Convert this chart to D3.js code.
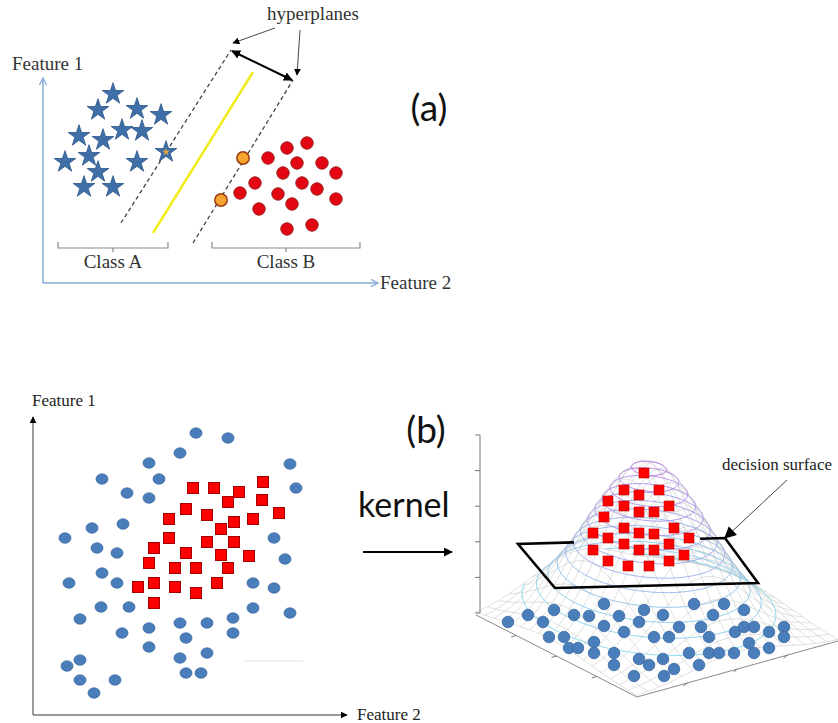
<!DOCTYPE html>
<html>
<head>
<meta charset="utf-8">
<script src="https://cdn.jsdelivr.net/npm/d3@7"></script>
<style>
  body { margin: 0; background: #fff; }
  svg { display: block; }
</style>
</head>
<body>
<div id="chart"></div>
<script>
// all panel values are in drawing units (1 unit ~ 10px of the original figure)

// ---- (a) linear separation ----
var starsA = [[7.0,18.9],[5.5,17.3],[9.4,17.4],[11.8,16.8],[3.6,14.7],[6.0,14.3],[7.9,15.3],
              [9.9,15.2],[2.2,12.1],[4.6,12.7],[5.5,11.1],[9.4,12.1],[4.1,9.6],[7.0,9.6]];
var supportStarsA = [[12.3,13.1]];
var circlesA = [[26.4,14.0],[24.4,13.5],[22.5,12.5],[25.4,12.0],[27.9,12.0],[24.0,11.0],[29.3,11.0],
                [21.2,10.0],[25.9,10.0],[27.4,9.4],[19.7,9.0],[23.5,8.9],[24.9,7.9],[29.3,8.4],
                [21.6,7.4],[24.4,5.4],[26.9,5.8]];
var supportCirclesA = [[20.0,12.5],[17.8,8.3]];
var hyperplanesA = [[[7.8,6.0],[18.8,23.3]], [[15.0,4.0],[25.0,20.3]]];
var separatorA = [[11.0,5.0],[21.0,21.1]];
var marginA = [[18.9,23.2],[24.9,20.3]];
var pointersA = [[[23.2,25.5],[19.0,24.0]], [[25.7,25.3],[25.4,20.8]]];
var classesA = [{name: "Class A", from: 1.5, to: 12.5}, {name: "Class B", from: 16.9, to: 31.7}];

// ---- (b) left: input space ----
var circlesB = [[16.3,28.2],[14.7,26.2],[11.6,25.2],[6.9,23.6],[12.6,23.6],[9.4,22.2],[11.6,21.7],
                [5.9,18.7],[9.0,19.1],[3.2,17.7],[6.4,16.7],[8.4,16.2],[6.9,14.2],[3.6,13.2],
                [8.4,13.2],[6.8,10.8],[9.6,10.8],[4.7,9.6],[11.6,8.7],[14.7,9.2],[17.4,9.2],
                [8.9,8.2],[15.3,7.7],[11.6,6.8],[17.4,6.2],[14.7,5.7],[4.7,5.5],[3.4,4.9],
                [4.7,3.5],[8.2,3.5],[15.3,4.2],[16.8,4.2],[6.1,2.2],[19.5,27.7],[25.7,25.1],
                [26.3,22.7],[24.1,17.7],[25.2,15.6],[22.0,13.2],[24.1,12.7],[22.0,10.7],
                [25.7,10.2],[20.0,9.7],[20.0,8.2]];
var squaresB = [[16.0,22.7],[18.1,22.7],[20.6,22.3],[23.0,23.3],[19.5,21.3],[22.9,21.5],[15.3,20.6],
                [17.4,20.0],[13.6,19.6],[20.1,19.3],[22.0,19.6],[24.6,20.2],[18.8,18.6],[13.6,17.7],
                [17.4,17.3],[20.1,17.3],[12.1,16.7],[15.3,16.2],[18.8,16.0],[21.6,15.9],[11.6,15.2],
                [14.2,14.7],[16.3,14.7],[19.5,14.7],[18.4,13.2],[12.1,13.2],[10.5,12.8],[14.2,12.8],
                [16.3,12.2],[12.1,11.2]];

// ---- (b) right: feature space after kernel ----
var squares3D = [[16.4,14.0],[14.4,12.3],[15.9,11.8],[17.9,12.3],[12.8,11.2],[14.4,10.7],[15.9,10.1],
                 [17.4,10.1],[18.9,10.7],[12.4,9.6],[14.4,8.5],[15.9,8.0],[17.4,7.9],[19.4,8.5],
                 [11.3,8.0],[12.8,7.5],[14.4,6.9],[15.9,6.3],[17.4,6.3],[18.9,6.9],[20.9,7.5],
                 [11.3,6.3],[12.8,5.2],[14.8,4.7],[16.9,4.7],[18.9,5.2],[20.4,5.8]];
var circles3D = [[2.8,-0.9],[4.8,-0.2],[6.3,-0.9],[7.4,0.3],[9.4,-0.2],[10.9,-0.3],[12.4,0.9],
                 [13.9,-0.3],[16.4,0.3],[15.9,-0.9],[12.4,-1.3],[14.4,-1.9],[17.4,-2.4],[6.9,-2.4],
                 [8.4,-2.4],[8.9,-3.5],[9.8,-3.5],[11.4,-2.9],[11.4,-4.0],[13.4,-4.0],[13.4,-5.2],
                 [15.9,-4.6],[16.9,-5.2],[15.4,-6.3],[21.4,0.9],[24.4,0.9],[26.4,0.3],[18.3,-0.2],
                 [23.3,-0.2],[19.9,-1.4],[22.1,-1.4],[25.5,-1.9],[26.4,-1.4],[27.4,-1.4],[28.9,-1.9],
                 [30.4,-1.4],[30.4,-2.4],[18.9,-2.4],[22.9,-2.4],[26.9,-3.0],[28.9,-3.5],[20.9,-4.0],
                 [22.9,-4.0],[23.9,-4.0],[25.4,-4.0],[27.4,-4.0],[18.3,-4.6],[19.4,-5.6],[21.9,-5.2],
                 [18.4,-6.3]];
var zTicks = [0, 3.56, 7.12, 10.68, 14.24, 17.8];
var floorTicks = [0.25, 0.5, 0.75];
var planeCorners = [[3.8,6.9],[7.5,2.5],[27.8,3.0],[24.5,7.5]];   // back-left, front-left, front-right, back-right
var planeHidden = [0.27, 0.88];                                      // part of back edge behind the bump
var surfacePointer = [[30.7,13.3],[24.5,7.5]];

var W = 838, H = 723;
var svg = d3.select("#chart").append("svg").attr("width", W).attr("height", H);

var defs = svg.append("defs");
function marker(id, color, size, open) {
  var m = defs.append("marker").attr("id", id)
    .attr("viewBox", "0 0 10 10").attr("refX", 9).attr("refY", 5)
    .attr("markerUnits", "userSpaceOnUse")
    .attr("markerWidth", size).attr("markerHeight", size)
    .attr("orient", "auto-start-reverse");
  if (open) m.append("path").attr("d", "M1,1 L9,5 L1,9").attr("fill", "none").attr("stroke", color).attr("stroke-width", 1.4);
  else m.append("path").attr("d", "M0,0 L10,5 L0,10 Z").attr("fill", color);
}
marker("chev", "#86acd9", 9, true);
marker("tri", "#000", 9, false);
marker("triBig", "#000", 12, false);
marker("triSmall", "#000", 7, false);

var serif = "'Liberation Serif','Times New Roman',serif";
var sans = "Lato,'Open Sans',sans-serif";
var line = d3.line();

// ================= panel (a) =================
var xA = d3.scaleLinear().domain([0, 33.5]).range([43, 378]);
var yA = d3.scaleLinear().domain([0, 20.5]).range([283, 78]);
var gA = svg.append("g");
var pA = function(d) { return [xA(d[0]), yA(d[1])]; };

gA.append("path").attr("d", line([[xA(0), yA(0)], [xA(0), yA(20.5)]]))
  .attr("stroke", "#86acd9").attr("stroke-width", 1.5).attr("fill", "none").attr("marker-end", "url(#chev)");
gA.append("path").attr("d", line([[xA(0), yA(0)], [xA(33.5), yA(0)]]))
  .attr("stroke", "#86acd9").attr("stroke-width", 1.5).attr("fill", "none").attr("marker-end", "url(#chev)");
gA.append("text").attr("x", 12).attr("y", 70).text("Feature 1")
  .attr("font-family", serif).attr("font-size", 19).attr("fill", "#333");
gA.append("text").attr("x", xA(33.5) + 2).attr("y", 289).text("Feature 2")
  .attr("font-family", serif).attr("font-size", 19).attr("fill", "#333");

// brackets
classesA.forEach(function(c) {
  var x0 = xA(c.from), x1 = xA(c.to), xm = (x0 + x1) / 2;
  gA.append("path")
    .attr("d", line([[x0, yA(4.1)], [x0, yA(3.5)], [x1, yA(3.5)], [x1, yA(4.1)]]))
    .attr("fill", "none").attr("stroke", "#8a8a8a").attr("stroke-width", 1.2);
  gA.append("path").attr("d", line([[xm, yA(3.5)], [xm, yA(3.1)]]))
    .attr("stroke", "#8a8a8a").attr("stroke-width", 1.2);
  gA.append("text").attr("x", xm).attr("y", yA(1.5)).attr("text-anchor", "middle").text(c.name)
    .attr("font-family", serif).attr("font-size", 19).attr("fill", "#333");
});

gA.selectAll(".hp").data(hyperplanesA).enter().append("path")
  .attr("d", function(d) { return line(d.map(pA)); })
  .attr("stroke", "#444").attr("stroke-width", 1.3).attr("stroke-dasharray", "4,3").attr("fill", "none");
gA.append("path").attr("d", line(separatorA.map(pA)))
  .attr("stroke", "#f2ec1c").attr("stroke-width", 2.5).attr("fill", "none");
gA.append("path").attr("d", line(marginA.map(pA)))
  .attr("stroke", "#000").attr("stroke-width", 2).attr("fill", "none")
  .attr("marker-start", "url(#tri)").attr("marker-end", "url(#tri)");
gA.selectAll(".ptr").data(pointersA).enter().append("path")
  .attr("d", function(d) { return line(d.map(pA)); })
  .attr("stroke", "#333").attr("stroke-width", 0.9).attr("fill", "none").attr("marker-end", "url(#triSmall)");
gA.append("text").attr("x", xA(27.0)).attr("y", yA(26.3)).attr("text-anchor", "middle").text("hyperplanes")
  .attr("font-family", serif).attr("font-size", 19).attr("fill", "#333");

var star = d3.symbol().type(d3.symbolStar).size(145);
var starSmall = d3.symbol().type(d3.symbolStar).size(18);
gA.selectAll(".star").data(starsA.concat(supportStarsA)).enter().append("path")
  .attr("d", star).attr("transform", function(d) { return "translate(" + pA(d) + ")"; })
  .attr("fill", "#3f6fa9").attr("stroke", "#2b5487").attr("stroke-width", 0.8);
gA.selectAll(".sstar").data(supportStarsA).enter().append("path")
  .attr("d", starSmall).attr("transform", function(d) { return "translate(" + pA(d) + ")"; })
  .attr("fill", "#e8a93a");
gA.selectAll(".circ").data(circlesA).enter().append("circle")
  .attr("cx", function(d) { return xA(d[0]); }).attr("cy", function(d) { return yA(d[1]); }).attr("r", 6.2)
  .attr("fill", "#e30613").attr("stroke", "#9b1a1a").attr("stroke-width", 1);
gA.selectAll(".scirc").data(supportCirclesA).enter().append("circle")
  .attr("cx", function(d) { return xA(d[0]); }).attr("cy", function(d) { return yA(d[1]); }).attr("r", 6.2)
  .attr("fill", "#f6a531").attr("stroke", "#9b3d12").attr("stroke-width", 1.5);

svg.append("text").attr("x", 429).attr("y", 121).attr("text-anchor", "middle").text("(a)")
  .attr("font-family", sans).attr("font-size", 37).attr("fill", "#111");

// ================= panel (b) left =================
var xB = d3.scaleLinear().domain([0, 31.4]).range([33, 347]);
var yB = d3.scaleLinear().domain([0, 29.8]).range([715, 417]);
var gB = svg.append("g");
gB.append("path").attr("d", line([[xB(0), yB(0)], [xB(0), yB(29.8)]]))
  .attr("stroke", "#7a7a7a").attr("stroke-width", 1.5).attr("fill", "none").attr("marker-end", "url(#triSmall)");
gB.append("path").attr("d", line([[xB(0), yB(0)], [xB(31.4), yB(0)]]))
  .attr("stroke", "#7a7a7a").attr("stroke-width", 1.5).attr("fill", "none").attr("marker-end", "url(#triSmall)");
gB.append("text").attr("x", 32).attr("y", 406).text("Feature 1")
  .attr("font-family", serif).attr("font-size", 17).attr("fill", "#222");
gB.append("text").attr("x", xB(31.4) + 10).attr("y", 720).text("Feature 2")
  .attr("font-family", serif).attr("font-size", 17).attr("fill", "#222");
gB.append("path").attr("d", line([[xB(21.0), yB(5.4)], [xB(27.0), yB(5.4)]]))
  .attr("stroke", "#e4e4e4").attr("stroke-width", 1);

gB.selectAll(".bc").data(circlesB).enter().append("ellipse")
  .attr("cx", function(d) { return xB(d[0]); }).attr("cy", function(d) { return yB(d[1]); })
  .attr("rx", 6).attr("ry", 5.2)
  .attr("fill", "#4a7ebb").attr("stroke", "#3c6aa3").attr("stroke-width", 0.8);
gB.selectAll(".bs").data(squaresB).enter().append("rect")
  .attr("x", function(d) { return xB(d[0]) - 5.5; }).attr("y", function(d) { return yB(d[1]) - 5.5; })
  .attr("width", 11).attr("height", 11)
  .attr("fill", "#ff0000").attr("stroke", "#a00000").attr("stroke-width", 1);

svg.append("text").attr("x", 426).attr("y", 443).attr("text-anchor", "middle").text("(b)")
  .attr("font-family", sans).attr("font-size", 37).attr("fill", "#111");
svg.append("text").attr("x", 358).attr("y", 517).text("kernel")
  .attr("font-family", sans).attr("font-size", 34).attr("fill", "#111");
svg.append("path").attr("d", line([[363, 552], [452, 552]]))
  .attr("stroke", "#000").attr("stroke-width", 2.2).attr("marker-end", "url(#tri)");

// ================= panel (b) right: 3-D surface =================
var x3 = d3.scaleLinear().domain([0, 10]).range([480, 580]);
var y3 = d3.scaleLinear().domain([0, 10]).range([613, 513]);
var g3 = svg.append("g");
var p3 = function(d) { return [x3(d[0]), y3(d[1])]; };

var floorL = [-0.4, -0.2], floorS = [16.1, -8.2], floorT = [20.1, 5.6];
var lenS = Math.hypot(floorS[0], floorS[1]), lenT = Math.hypot(floorT[0], floorT[1]);
var bump = {s0: 0.45, t0: 0.5, peak: 16.2, sigma: 4.7};
function heightAt(s, t) {
  var a = (s - bump.s0) * lenS, b = (t - bump.t0) * lenT;
  return bump.peak * Math.exp(-(a * a + b * b) / (2 * bump.sigma * bump.sigma));
}
function proj(s, t, h) {
  return [x3(floorL[0] + s * floorS[0] + t * floorT[0]), y3(floorL[1] + s * floorS[1] + t * floorT[1] + h)];
}

// mesh
var N = 18, M = 48, mesh = [];
d3.range(N + 1).forEach(function(i) {
  var u = i / N;
  mesh.push(d3.range(M + 1).map(function(j) { var v = j / M; return proj(u, v, heightAt(u, v)); }));
  mesh.push(d3.range(M + 1).map(function(j) { var v = j / M; return proj(v, u, heightAt(v, u)); }));
});
g3.selectAll(".mesh").data(mesh).enter().append("path")
  .attr("d", line).attr("fill", "none").attr("stroke", "#d2d2d2").attr("stroke-width", 0.7);

// contour rings
var levels = d3.range(0.12, 0.99, 0.07);
var ringColor = d3.interpolateRgb("#74e4ee", "#b86de3");
levels.forEach(function(f) {
  var r = bump.sigma * Math.sqrt(-2 * Math.log(f));
  var pts = d3.range(0, 73).map(function(k) {
    var th = k / 72 * 2 * Math.PI;
    var s = bump.s0 + r * Math.cos(th) / lenS, t = bump.t0 + r * Math.sin(th) / lenT;
    return (s < 0 || s > 1 || t < 0 || t > 1) ? null : proj(s, t, f * bump.peak);
  });
  g3.append("path").attr("d", d3.line().defined(function(d) { return d; })(pts))
    .attr("fill", "none").attr("stroke", ringColor(f)).attr("stroke-width", 1).attr("opacity", 0.85);
});

// axes of the 3-D box
g3.append("path").attr("d", line([p3([0, 0]), p3([0, zTicks[zTicks.length - 1]])]))
  .attr("stroke", "#777").attr("stroke-width", 1);
g3.selectAll(".zt").data(zTicks).enter().append("path")
  .attr("d", function(d) { return line([[x3(0) - 5, y3(d)], [x3(0), y3(d)]]); })
  .attr("stroke", "#777").attr("stroke-width", 1);
g3.append("path").attr("d", line([proj(0, 0, 0), proj(1, 0, 0), proj(1, 1, 0)]))
  .attr("fill", "none").attr("stroke", "#8a8a8a").attr("stroke-width", 1);
g3.selectAll(".ft1").data(floorTicks).enter().append("path")
  .attr("d", function(d) { var a = proj(d, 0, 0); return line([a, [a[0] - 5, a[1] + 1.5]]); })
  .attr("stroke", "#777").attr("stroke-width", 1);
g3.selectAll(".ft2").data(floorTicks).enter().append("path")
  .attr("d", function(d) { var a = proj(1, d, 0); return line([a, [a[0] - 4, a[1] + 3]]); })
  .attr("stroke", "#777").attr("stroke-width", 1);

// decision plane
var pc = planeCorners.map(p3);
var lerp = function(a, b, k) { return [a[0] + (b[0] - a[0]) * k, a[1] + (b[1] - a[1]) * k]; };
g3.append("path").attr("d", line([lerp(pc[0], pc[3], planeHidden[0]), pc[0], pc[1], pc[2], pc[3], lerp(pc[0], pc[3], planeHidden[1])]))
  .attr("fill", "none").attr("stroke", "#000").attr("stroke-width", 2.6).attr("stroke-linejoin", "miter");

g3.selectAll(".c3").data(circles3D).enter().append("circle")
  .attr("cx", function(d) { return x3(d[0]); }).attr("cy", function(d) { return y3(d[1]); }).attr("r", 5.8)
  .attr("fill", "#4a7ebb").attr("stroke", "#3c6aa3").attr("stroke-width", 0.8);
g3.selectAll(".s3").data(squares3D).enter().append("rect")
  .attr("x", function(d) { return x3(d[0]) - 5; }).attr("y", function(d) { return y3(d[1]) - 5; })
  .attr("width", 10).attr("height", 10).attr("fill", "#ff0000").attr("stroke", "#c00000").attr("stroke-width", 0.6);

g3.append("path").attr("d", line(surfacePointer.map(p3)))
  .attr("stroke", "#444").attr("stroke-width", 1).attr("fill", "none").attr("marker-end", "url(#triBig)");
g3.append("text").attr("x", 777).attr("y", 470).attr("text-anchor", "middle").text("decision surface")
  .attr("font-family", serif).attr("font-size", 17).attr("fill", "#222");
</script>
</body>
</html>
